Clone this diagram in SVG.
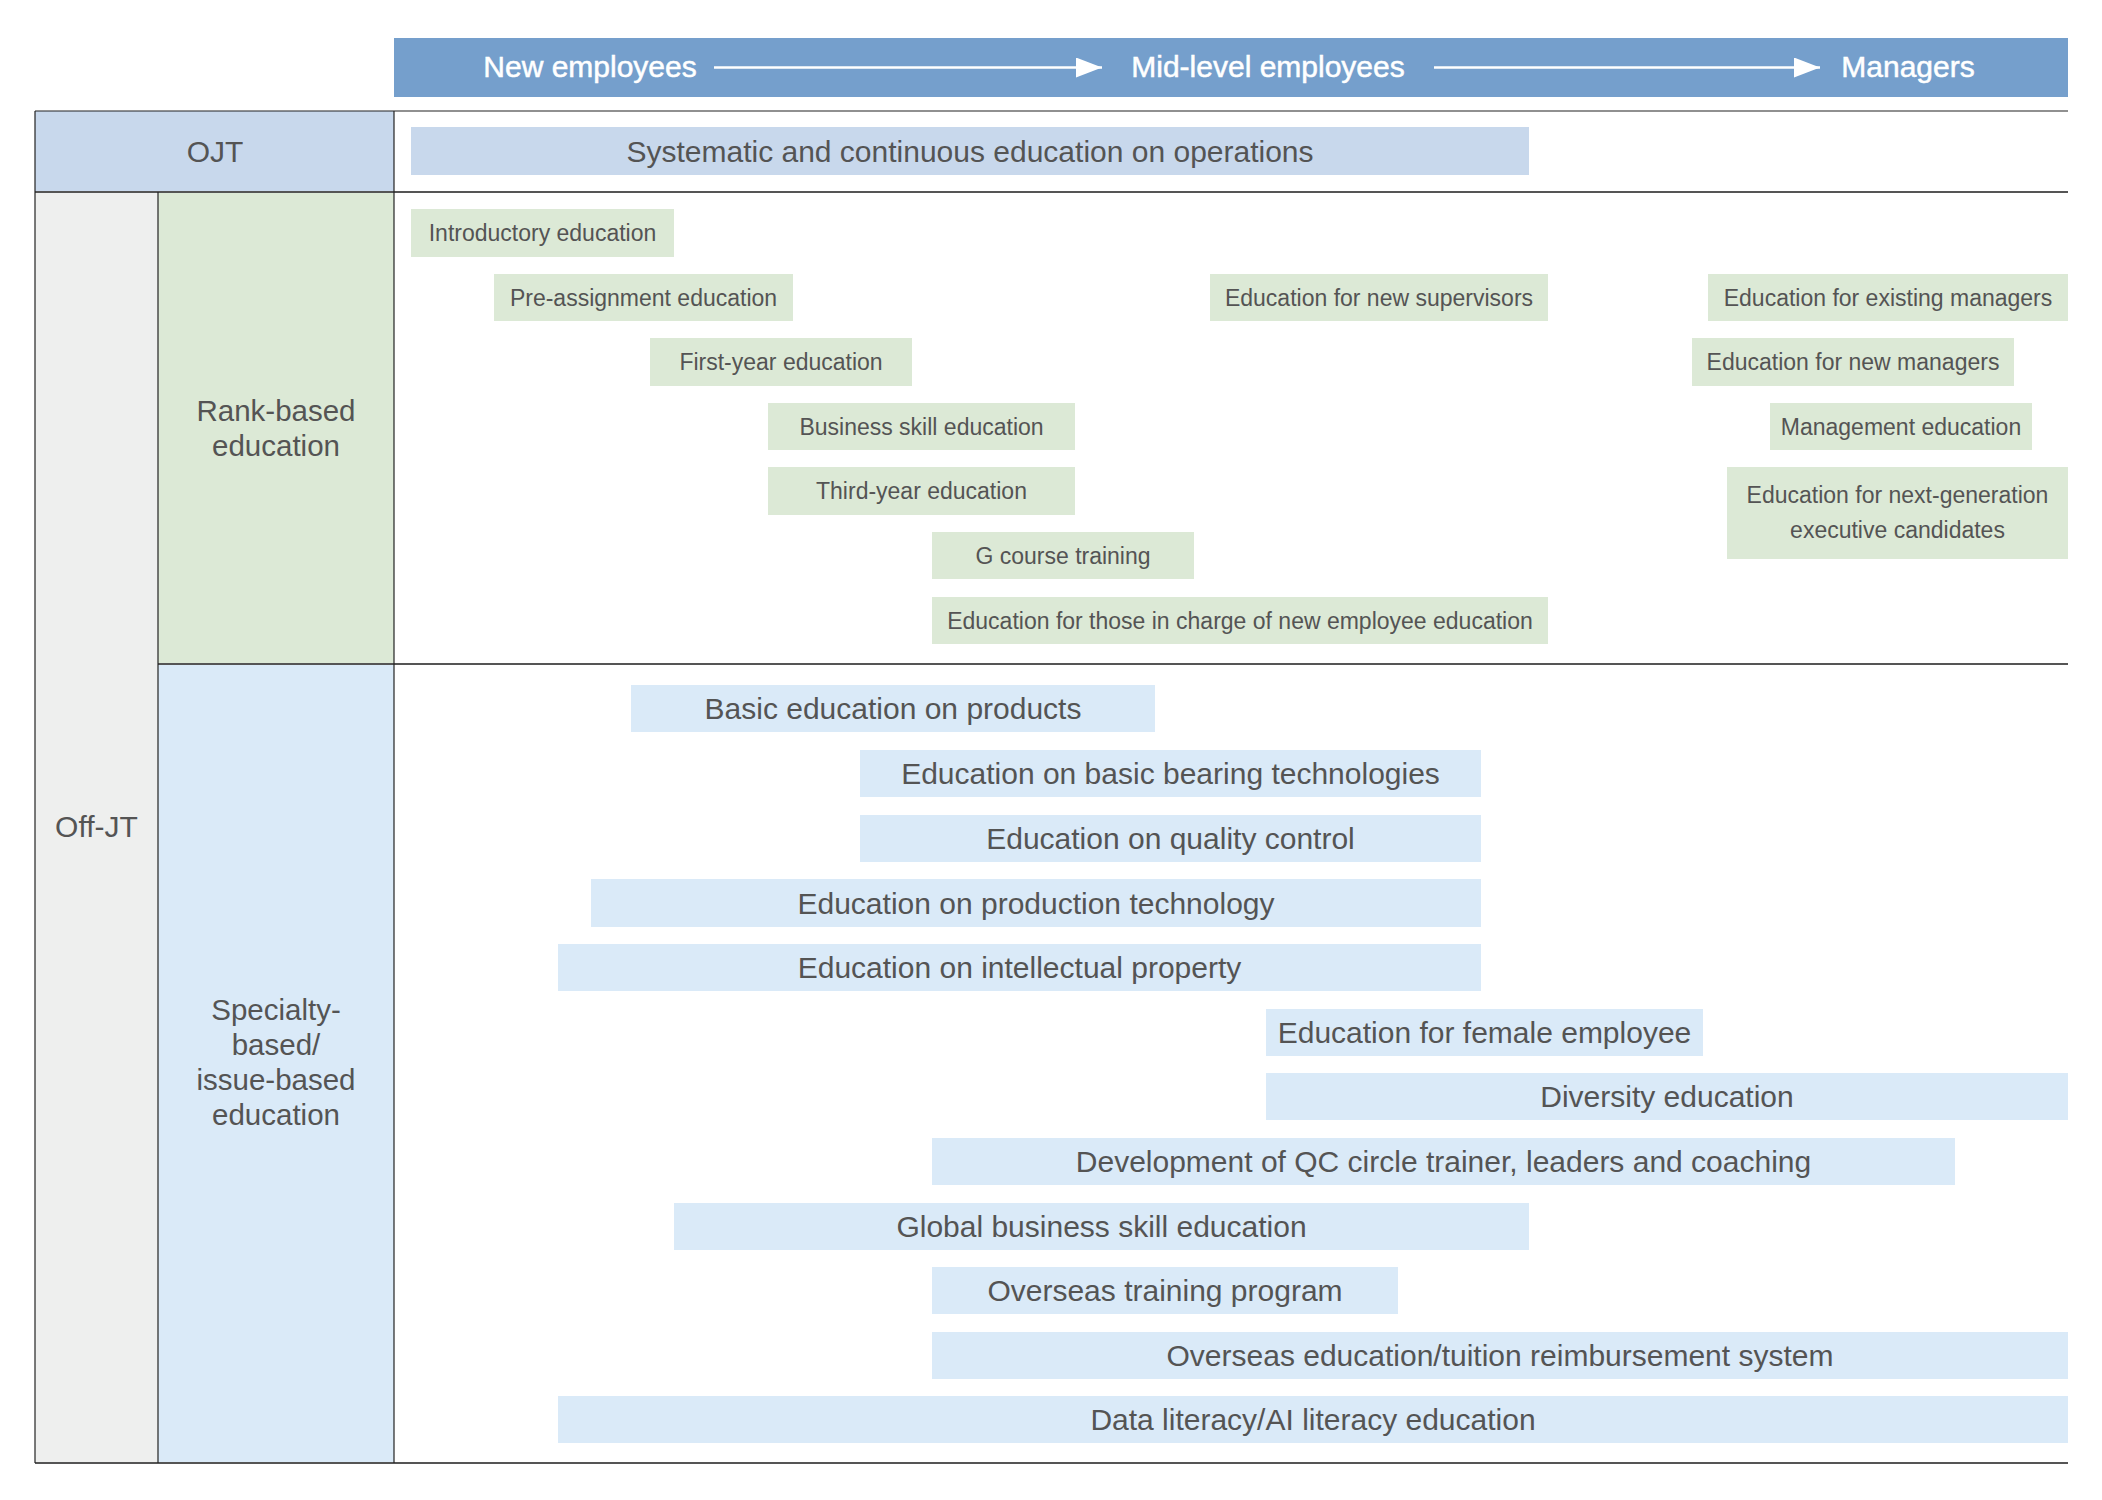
<svg xmlns="http://www.w3.org/2000/svg" width="2102" height="1500" viewBox="0 0 2102 1500">
<style>
text{font-family:"Liberation Sans",Arial,sans-serif;fill:#545454;text-anchor:middle}
.hd{fill:#ffffff;font-size:30px;stroke:#ffffff;stroke-width:0.5}
.cat{font-size:29.5px}
.big{font-size:30px}
.sm{font-size:23px}
.g{fill:#dce9d6}
.b{fill:#daeaf8}
.o{fill:#c8d8ec}
.grid{stroke:#555;stroke-width:2;fill:none}
.thin{stroke:#222;stroke-width:1.2;fill:none}
.arr{stroke:#ffffff;stroke-width:2.5;fill:none;marker-end:url(#ah)}
</style>
<defs>
<marker id="ah" markerWidth="26" markerHeight="20" refX="26" refY="10" orient="auto" markerUnits="userSpaceOnUse">
<path d="M0,0 L26,10 L0,20 Z" fill="#ffffff"/>
</marker>
</defs>
<rect width="2102" height="1500" fill="#ffffff"/>

<g id="header">
<rect x="394" y="38" width="1674" height="59" fill="#759fcc"/>
<text class="hd" x="590" y="77">New employees</text>
<text class="hd" x="1268" y="77">Mid-level employees</text>
<text class="hd" x="1908" y="77">Managers</text>
</g>

<g id="ojt-cell">
<rect class="o" x="35" y="111" width="359" height="81"/>
<text class="big" x="215" y="162">OJT</text>
</g>
<g id="offjt-cell">
<rect x="35" y="192" width="123" height="1271" fill="#eeefee"/>
<text class="big" x="96.5" y="837">Off-JT</text>
</g>
<g id="rank-cell">
<rect class="g" x="158" y="192" width="236" height="472"/>
<text class="cat" x="276" y="421">Rank-based</text>
<text class="cat" x="276" y="456">education</text>
</g>
<g id="specialty-cell">
<rect class="b" x="158" y="664" width="236" height="799"/>
<text class="cat" x="276" y="1020">Specialty-</text>
<text class="cat" x="276" y="1055">based/</text>
<text class="cat" x="276" y="1090">issue-based</text>
<text class="cat" x="276" y="1125">education</text>
</g>

<g id="grid-lines">
<line class="thin" x1="35" y1="111" x2="2068" y2="111" stroke-width="1.6"/>
<line class="grid" x1="35" y1="192" x2="2068" y2="192"/>
<line class="grid" x1="158" y1="664" x2="2068" y2="664"/>
<line class="grid" x1="35" y1="1463" x2="2068" y2="1463"/>
<line class="thin" x1="35" y1="111" x2="35" y2="1463"/>
<line class="thin" x1="158" y1="192" x2="158" y2="1463"/>
<line class="thin" x1="394" y1="111" x2="394" y2="1463" stroke-width="1.6"/>
</g>

<g id="ojt-systematic">
<rect class="o" x="411" y="127" width="1118" height="48"/>
<text class="big" x="970" y="161.5">Systematic and continuous education on operations</text>
</g>

<g id="r-introductory"><rect class="g" x="411" y="209" width="263" height="48"/><text class="sm" x="542.5" y="241">Introductory education</text></g>
<g id="r-preassignment"><rect class="g" x="494" y="274" width="299" height="47"/><text class="sm" x="643.5" y="305.5">Pre-assignment education</text></g>
<g id="r-firstyear"><rect class="g" x="650" y="338" width="262" height="48"/><text class="sm" x="781" y="370">First-year education</text></g>
<g id="r-business"><rect class="g" x="768" y="403" width="307" height="47"/><text class="sm" x="921.5" y="434.5">Business skill education</text></g>
<g id="r-thirdyear"><rect class="g" x="768" y="467" width="307" height="48"/><text class="sm" x="921.5" y="499">Third-year education</text></g>
<g id="r-gcourse"><rect class="g" x="932" y="532" width="262" height="47"/><text class="sm" x="1063" y="563.5">G course training</text></g>
<g id="r-incharge"><rect class="g" x="932" y="597" width="616" height="47"/><text class="sm" x="1240" y="628.5">Education for those in charge of new employee education</text></g>
<g id="r-newsupervisors"><rect class="g" x="1210" y="274" width="338" height="47"/><text class="sm" x="1379" y="305.5">Education for new supervisors</text></g>
<g id="r-existingmanagers"><rect class="g" x="1708" y="274" width="360" height="47"/><text class="sm" x="1888" y="305.5">Education for existing managers</text></g>
<g id="r-newmanagers"><rect class="g" x="1692" y="338" width="322" height="48"/><text class="sm" x="1853" y="370">Education for new managers</text></g>
<g id="r-management"><rect class="g" x="1770" y="403" width="262" height="47"/><text class="sm" x="1901" y="434.5">Management education</text></g>
<g id="r-nextgen"><rect class="g" x="1727" y="467" width="341" height="92"/><text class="sm" x="1897.5" y="503">Education for next-generation</text><text class="sm" x="1897.5" y="538">executive candidates</text></g>

<g id="s-products"><rect class="b" x="631" y="685" width="524" height="47"/><text class="big" x="893" y="719">Basic education on products</text></g>
<g id="s-bearing"><rect class="b" x="860" y="750" width="621" height="47"/><text class="big" x="1170.5" y="784">Education on basic bearing technologies</text></g>
<g id="s-quality"><rect class="b" x="860" y="815" width="621" height="47"/><text class="big" x="1170.5" y="849">Education on quality control</text></g>
<g id="s-production"><rect class="b" x="591" y="879" width="890" height="48"/><text class="big" x="1036" y="913.5">Education on production technology</text></g>
<g id="s-ip"><rect class="b" x="558" y="944" width="923" height="47"/><text class="big" x="1019.5" y="978">Education on intellectual property</text></g>
<g id="s-female"><rect class="b" x="1266" y="1009" width="437" height="47"/><text class="big" x="1484.5" y="1043">Education for female employee</text></g>
<g id="s-diversity"><rect class="b" x="1266" y="1073" width="802" height="47"/><text class="big" x="1667" y="1107">Diversity education</text></g>
<g id="s-qc"><rect class="b" x="932" y="1138" width="1023" height="47"/><text class="big" x="1443.5" y="1172">Development of QC circle trainer, leaders and coaching</text></g>
<g id="s-global"><rect class="b" x="674" y="1203" width="855" height="47"/><text class="big" x="1101.5" y="1237">Global business skill education</text></g>
<g id="s-overseas-training"><rect class="b" x="932" y="1267" width="466" height="47"/><text class="big" x="1165" y="1301">Overseas training program</text></g>
<g id="s-tuition"><rect class="b" x="932" y="1332" width="1136" height="47"/><text class="big" x="1500" y="1366">Overseas education/tuition reimbursement system</text></g>
<g id="s-data"><rect class="b" x="558" y="1396" width="1510" height="47"/><text class="big" x="1313" y="1430">Data literacy/AI literacy education</text></g>

<g id="connectors">
<line class="arr" x1="714" y1="67.5" x2="1102" y2="67.5"/>
<line class="arr" x1="1434" y1="67.5" x2="1820" y2="67.5"/>
</g>
</svg>
